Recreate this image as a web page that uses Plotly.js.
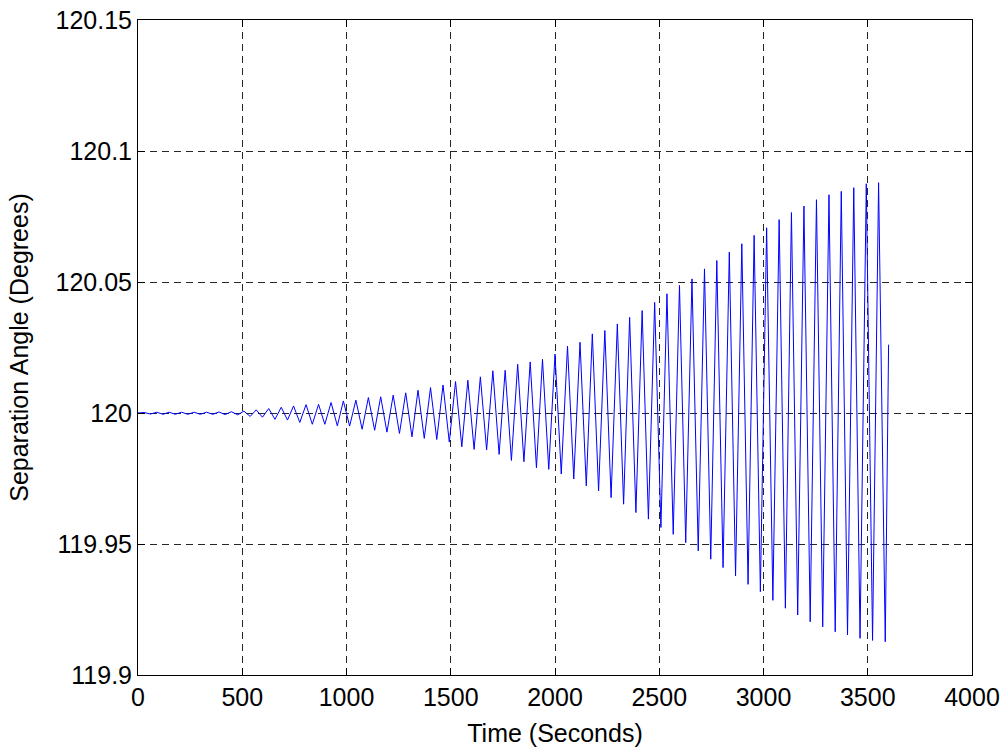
<!DOCTYPE html>
<html>
<head>
<meta charset="utf-8">
<script src="https://cdn.plot.ly/plotly-3.0.1.min.js"></script>
<style>
  html, body { margin: 0; padding: 0; background: #fff; }
  #chart { width: 1003px; height: 749px; }
</style>
</head>
<body>
<div id="chart"></div>
<script>
// Separation angle history: successive crests and dips of the oscillation (seconds, degrees)
const startTime = 0;
const startAngle = 120.0;

const crestTimes = [30, 90, 149, 209, 269, 329, 388, 448, 508, 567,
  627, 687, 746, 806, 866, 926, 985, 1045, 1105, 1164,
  1224, 1284, 1343, 1403, 1463, 1523, 1582, 1642, 1702, 1761,
  1821, 1881, 1940, 2000, 2060, 2120, 2179, 2239, 2299, 2358,
  2418, 2478, 2537, 2597, 2657, 2717, 2776, 2836, 2896, 2955,
  3015, 3075, 3134, 3194, 3254, 3314, 3373, 3433, 3493, 3552];

const crestAngles = [120.0002, 120.0003, 120.0003, 120.0003, 120.0003, 120.0003, 120.0004, 120.0005,
  120.0007, 120.0012, 120.0017, 120.0022, 120.0027, 120.0032, 120.0033, 120.0040, 120.0046,
  120.0049, 120.0059, 120.0062, 120.0068, 120.0077, 120.0087, 120.0097, 120.0107, 120.0120,
  120.0125, 120.0138, 120.0161, 120.0163, 120.0186, 120.0195, 120.0205, 120.0225,
  120.0255, 120.0270, 120.0302, 120.0315, 120.0340, 120.0365, 120.0391, 120.0422,
  120.0455, 120.0487, 120.0512, 120.0550, 120.0582, 120.0614, 120.0646, 120.0678,
  120.0707, 120.0738, 120.0765, 120.0790, 120.0814, 120.0833, 120.0846, 120.0860, 120.0875,
  120.0879];

const dipTimes = [60, 120, 179, 239, 299, 359, 418, 478, 538, 597,
  657, 717, 776, 836, 896, 956, 1015, 1075, 1135, 1194,
  1254, 1314, 1373, 1433, 1493, 1553, 1612, 1672, 1732, 1791,
  1851, 1911, 1970, 2030, 2090, 2150, 2209, 2269, 2329, 2388,
  2448, 2508, 2567, 2627, 2687, 2747, 2806, 2866, 2926, 2985,
  3045, 3105, 3164, 3224, 3284, 3344, 3403, 3463, 3523, 3584];

const dipAngles = [119.9996, 119.9995, 119.9995, 119.9995, 119.9995, 119.9995, 119.9994, 119.9993,
  119.9987, 119.9984, 119.9976, 119.9973, 119.9964, 119.9957, 119.9957, 119.9951,
  119.9950, 119.9938, 119.9934, 119.9927, 119.9922, 119.9909, 119.9903, 119.9899, 119.9889,
  119.9871, 119.9861, 119.9859, 119.9842, 119.9819, 119.9814, 119.9791, 119.9785,
  119.9767, 119.9748, 119.9722, 119.9703, 119.9677, 119.9652, 119.9620, 119.9595, 119.9563,
  119.9537, 119.9505, 119.9474, 119.9442, 119.9410, 119.9378, 119.9346, 119.9318,
  119.9285, 119.9255, 119.9229, 119.9203, 119.9184, 119.9165, 119.9153, 119.9140,
  119.9132, 119.9127];

const endTime = 3600;
const endAngle = 120.0261;

const xTicks = [0, 500, 1000, 1500, 2000, 2500, 3000, 3500, 4000];
const yTicks = [119.9, 119.95, 120, 120.05, 120.1, 120.15];
const yTickText = ['119.9', '119.95', '120', '120.05', '120.1', '120.15'];

// Interleave crests and dips into one time series
const t = [startTime];
const a = [startAngle];
for (let i = 0; i < crestTimes.length; i++) {
  t.push(crestTimes[i]); a.push(crestAngles[i]);
  t.push(dipTimes[i]); a.push(dipAngles[i]);
}
t.push(endTime); a.push(endAngle);

const font = { family: 'Liberation Sans, Arial, sans-serif', size: 25, color: '#000' };

const axisCommon = {
  showline: true, linecolor: '#000', linewidth: 1, mirror: 'ticks',
  ticks: 'inside', ticklen: 7, tickwidth: 1, tickcolor: '#000',
  showgrid: true, gridcolor: 'rgba(0,0,0,0.85)', gridwidth: 1, griddash: '7px,5px',
  zeroline: false, tickfont: font, automargin: false, fixedrange: true
};

const trace = {
  x: t, y: a, type: 'scatter', mode: 'lines',
  line: { color: '#0000ff', width: 1 },
  hoverinfo: 'skip'
};

const layout = {
  width: 1003, height: 749,
  paper_bgcolor: '#fff', plot_bgcolor: '#fff',
  margin: { l: 138, r: 31, t: 20, b: 74 },
  showlegend: false,
  font: font,
  xaxis: Object.assign({}, axisCommon, {
    range: [0, 4000], tickvals: xTicks, ticktext: xTicks.map(String),
    title: { text: 'Time (Seconds)', font: font, standoff: 14 }
  }),
  yaxis: Object.assign({}, axisCommon, {
    range: [119.9, 120.15], tickvals: yTicks, ticktext: yTickText,
    title: { text: 'Separation Angle (Degrees)', font: font, standoff: 19 }
  })
};

Plotly.newPlot('chart', [trace], layout, { staticPlot: true, displayModeBar: false });
</script>
</body>
</html>
